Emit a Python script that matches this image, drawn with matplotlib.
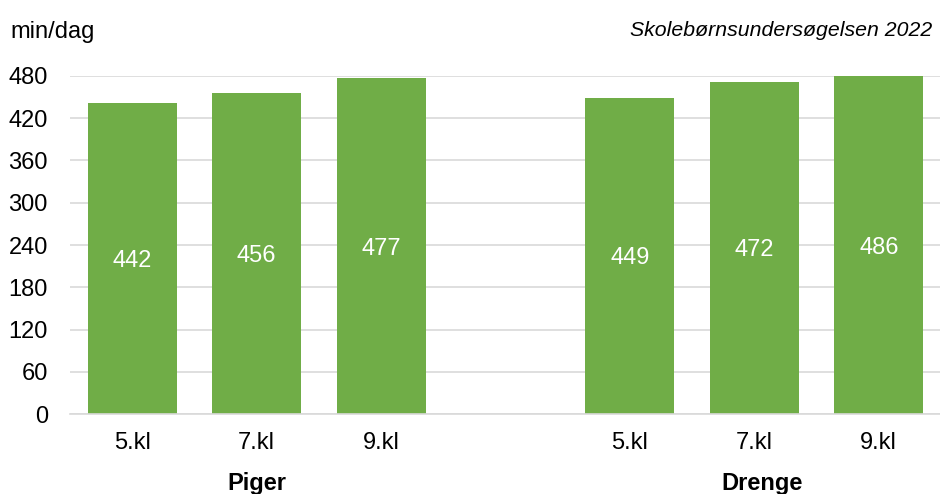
import matplotlib.pyplot as plt

plt.rcParams["font.family"] = ["Liberation Sans", "DejaVu Sans"]

grades = ["5.kl", "7.kl", "9.kl"]
groups = ["Piger", "Drenge"]
piger = [442, 456, 477]
drenge = [449, 472, 486]
yticks = [0, 60, 120, 180, 240, 300, 360, 420, 480]

green = "#70AD47"
fs = 17

fig = plt.figure(figsize=(9.4, 4.94), dpi=100)
ax = fig.add_axes([70 / 940, 1 - 414 / 494, 871 / 940, 338 / 494])

# positions: three bars, one empty slot, three bars
pos_p = [0, 1, 2]
pos_d = [4, 5, 6]
values = piger + drenge
positions = pos_p + pos_d

ax.bar(positions, values, width=0.715, color=green, zorder=2)
for x, v in zip(positions, values):
    ax.text(x, min(v, 480) / 2, str(v), ha="center", va="center_baseline",
            color="white", fontsize=fs, zorder=3)

ax.set_xlim(-0.5, 6.5)
ax.set_ylim(0, 480)
ax.set_yticks(yticks)
ax.set_yticklabels([str(t) for t in yticks], fontsize=fs)
ax.set_xticks(positions)
ax.set_xticklabels(grades + grades, fontsize=fs)
ax.tick_params(axis="both", length=0)
ax.tick_params(axis="x", pad=13)
ax.tick_params(axis="y", pad=16)

ax.grid(axis="y", color="#d9d9d9", linewidth=1.2, zorder=0)
for s in ["top", "right", "left"]:
    ax.spines[s].set_visible(False)
ax.spines["bottom"].set_color("#d9d9d9")
ax.spines["bottom"].set_linewidth(1.2)

for x, g in zip([1, 5.06], groups):
    ax.text(x, -(483 - 414) / 338, g, transform=ax.get_xaxis_transform(),
            ha="center", va="center", fontsize=fs, fontweight="bold")

fig.text(10 / 940, 1 - 32 / 494, "min/dag", ha="left", va="center", fontsize=fs)
fig.text(932 / 940, 1 - 30 / 494, "Skolebørnsundersøgelsen 2022", ha="right",
         va="center", fontsize=15.3, style="italic")

fig.savefig("out.png", dpi=100)
